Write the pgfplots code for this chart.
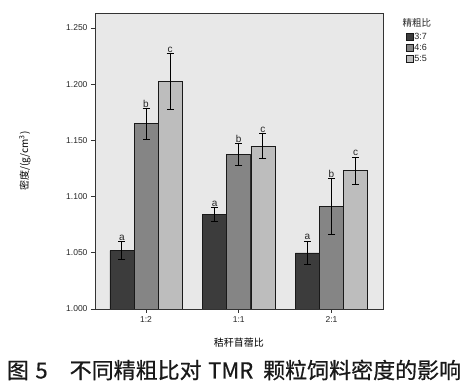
\documentclass[border=0pt]{standalone}
\usepackage{pgfplots}
\usepackage{pgfplotstable}
\pgfplotsset{compat=1.18}
\usepackage{fontspec}
\setmainfont{Liberation Sans}
\newfontfamily\cjk{Noto Sans CJK SC}
\newfontfamily\cjkcap[FakeBold=0.6]{Noto Sans CJK SC}
\definecolor{cA}{HTML}{3C3C3C}
\definecolor{cB}{HTML}{858585}
\definecolor{cC}{HTML}{BDBDBD}
\definecolor{bg}{HTML}{E8E8E8}
\definecolor{ax}{HTML}{333333}

\pgfplotstableread{
x y e
-0.26 1.0520 0.0080
0.74 1.0840 0.0060
1.74 1.0500 0.0105
}\dataA
\pgfplotstableread{
x y e
0.00 1.1650 0.0137
1.00 1.1375 0.0097
2.00 1.0910 0.0250
}\dataB
\pgfplotstableread{
x y e
0.26 1.2025 0.0250
1.26 1.1450 0.0113
2.26 1.1230 0.0122
}\dataC
\pgfplotstableread{
x y t
-0.26 1.0600 a
0.74 1.0900 a
1.74 1.0605 a
0.00 1.1787 b
1.00 1.1472 b
2.00 1.1160 b
0.26 1.2275 c
1.26 1.1563 c
2.26 1.1352 c
}\letters

\begin{document}
\begin{tikzpicture}[x=1pt,y=1pt]
\useasboundingbox (-95,-79) rectangle (372,309);
\begin{axis}[
  at={(0,0)}, anchor=south west,
  scale only axis, width=288pt, height=296pt,
  xmin=-0.55, xmax=2.555, ymin=1.0, ymax=1.2634,
  xtick={0,1,2}, xticklabels={1:2,1:1,2:1},
  ytick={1.0,1.05,1.1,1.15,1.2,1.25},
  yticklabel style={/pgf/number format/.cd, fixed, fixed zerofill, precision=3},
  /pgf/number format/assume math mode=true,
  tick align=outside, tick pos=left, major tick length=4pt,
  tick style={draw=ax, line width=0.8pt},
  axis line style={draw=ax, line width=0.9pt},
  axis background/.style={fill=bg},
  tick label style={font=\fontsize{8.5}{10}\selectfont, text=black!85},
  xlabel={\cjk\fontsize{10}{12}\selectfont 秸秆苜蓿比},
  xlabel style={at={(axis description cs:0.5,-0.115)}, anchor=center},
  ylabel={\cjk\fontsize{10}{12}\selectfont 密度/(g/cm\textsuperscript{3})},
  ylabel style={at={(axis description cs:-0.243,0.5)}, anchor=center},
  legend style={at={(axis description cs:1.078,0.937)}, anchor=north west,
    draw=none, fill=none, font=\fontsize{9}{10}\selectfont,
    inner sep=0pt, row sep=1.5pt, nodes={inner sep=1pt, text=black!85}},
  legend cell align=left,
]
\addplot[ybar, bar width=24pt, bar shift=0pt, fill=cA, draw=black!90, line width=0.6pt,
  legend image code/.code={\draw[fill=cA, draw=black!90, line width=0.6pt] (0pt,-3.5pt) rectangle (7pt,3.5pt);},
  error bars/.cd, y dir=both, y explicit,
  error bar style={line width=0.9pt, black},
  error mark options={rotate=90, mark size=3.5pt, line width=0.9pt, black}]
  table[x=x, y=y, y error=e] {\dataA};
\addlegendentry{3:7}
\addplot[ybar, bar width=24pt, bar shift=0pt, fill=cB, draw=black!90, line width=0.6pt,
  legend image code/.code={\draw[fill=cB, draw=black!90, line width=0.6pt] (0pt,-3.5pt) rectangle (7pt,3.5pt);},
  error bars/.cd, y dir=both, y explicit,
  error bar style={line width=0.9pt, black},
  error mark options={rotate=90, mark size=3.5pt, line width=0.9pt, black}]
  table[x=x, y=y, y error=e] {\dataB};
\addlegendentry{4:6}
\addplot[ybar, bar width=24pt, bar shift=0pt, fill=cC, draw=black!90, line width=0.6pt,
  legend image code/.code={\draw[fill=cC, draw=black!90, line width=0.6pt] (0pt,-3.5pt) rectangle (7pt,3.5pt);},
  error bars/.cd, y dir=both, y explicit,
  error bar style={line width=0.9pt, black},
  error mark options={rotate=90, mark size=3.5pt, line width=0.9pt, black}]
  table[x=x, y=y, y error=e] {\dataC};
\addlegendentry{5:5}
\addplot[only marks, mark=*, mark size=0pt, mark options={draw=none, fill=none},
  nodes near coords, point meta=explicit symbolic,
  every node near coord/.style={anchor=south, font=\fontsize{10}{11}\selectfont, text=black!85, inner sep=0.8pt},
  forget plot]
  table[x=x, y=y, meta=t] {\letters};
\end{axis}
\node[font=\cjk\fontsize{9.5}{11}\selectfont, text=black!85] at (322,286) {精粗比};
\node[font=\cjkcap\fontsize{22}{24}\selectfont, text=black!90] at (139,-61)
  {图\hspace{0.3em}5\hspace{1em}不同精粗比对\hspace{0.3em}TMR\hspace{0.45em}颗粒饲料密度的影响};
\end{tikzpicture}
\end{document}
